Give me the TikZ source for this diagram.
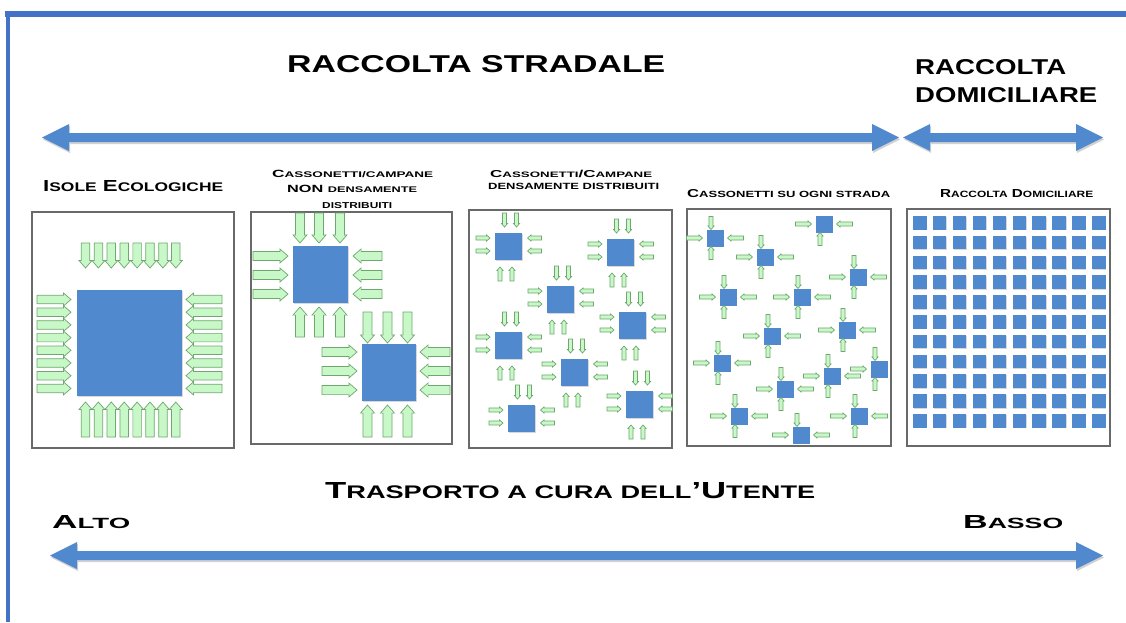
\documentclass[tikz,border=0pt]{standalone}
\usepackage{fontspec}
\setmainfont{Liberation Sans}
\usetikzlibrary{shadows}
\definecolor{frameblue}{RGB}{68,114,196}
\definecolor{sqblue}{RGB}{80,137,205}
\definecolor{gfill}{RGB}{200,248,200}
\definecolor{gline}{RGB}{110,168,110}
\definecolor{boxgray}{RGB}{105,105,105}
\tikzset{
  garrow/.style={fill=gfill, draw=gline, line width=0.7pt},
  sq/.style={fill=sqblue, drop shadow={shadow xshift=0.7pt, shadow yshift=-0.9pt, opacity=0.3}},
  panel/.style={draw=boxgray, line width=1.1pt, fill=white},
  bigarrow/.style={fill=sqblue, drop shadow={shadow xshift=1pt, shadow yshift=-2pt, opacity=0.35}},
  lbl/.style={anchor=base west, inner sep=0pt, font=\bfseries},
}
% green block arrow: centre x, centre y, angle, length, width
\newcommand\ga[5]{%
  \draw[garrow, shift={(#1,#2)}, rotate=#3]
    ({-#4/2},{-0.34*#5}) -- ({#4/2-0.6*#5},{-0.34*#5}) -- ({#4/2-0.6*#5},{-0.52*#5})
    -- ({#4/2},0) -- ({#4/2-0.6*#5},{0.52*#5}) -- ({#4/2-0.6*#5},{0.34*#5})
    -- ({-#4/2},{0.34*#5}) -- cycle;}
% big double arrow: x1, x2, y
\newcommand\bigarr[3]{%
  \path[bigarrow] (#1,#3) -- ({#1+27},{#3-13.5}) -- ({#1+27},{#3-4.5}) -- ({#2-27},{#3-4.5})
    -- ({#2-27},{#3-13.5}) -- (#2,#3) -- ({#2-27},{#3+13.5}) -- ({#2-27},{#3+4.5})
    -- ({#1+27},{#3+4.5}) -- ({#1+27},{#3+13.5}) -- cycle;}
% panel 3 unit: top-left x, y, has bottom arrows
\newcommand\uC[3]{%
  \fill[sq] (#1,#2) rectangle ++(27,27);
  \ga{#1+9.5}{#2-13}{270}{14}{6}\ga{#1+21.5}{#2-13}{270}{14}{6}
  \ga{#1-12}{#2+5}{0}{14}{6}\ga{#1-12}{#2+18}{0}{14}{6}
  \ga{#1+39.5}{#2+5}{180}{14}{6}\ga{#1+39.5}{#2+18}{180}{14}{6}
  \ifnum#3=1 \ga{#1+5}{#2+41}{90}{14}{6}\ga{#1+17}{#2+41}{90}{14}{6}\fi}
% panel 4 unit: centre x, y, flags top bottom left right
\newcommand\uD[6]{%
  \fill[sq] ({#1-8.5},{#2-8.5}) rectangle ++(17,17);
  \ifnum#3=1 \ga{#1-4}{#2-15}{270}{13}{6}\fi
  \ifnum#4=1 \ga{#1-4}{#2+15}{90}{13}{6}\fi
  \ifnum#5=1 \ga{#1-20.5}{#2}{0}{16}{6}\fi
  \ifnum#6=1 \ga{#1+20.5}{#2}{180}{16}{6}\fi}
\newcommand\scx[1]{{\fontsize{9.4}{9.4}\selectfont #1}}
\newcommand\lab[3]{\resizebox{#1pt}{#2pt}{\fontsize{12}{12}\selectfont #3}}
\begin{document}
\begin{tikzpicture}[x=1pt,y=-1pt]
\useasboundingbox (0,0) rectangle (1126,622);
\fill[white] (0,0) rectangle (1126,622);
% frame
\draw[frameblue, line width=6pt] (5,14) -- (1126,14);
\draw[frameblue, line width=4pt] (8,11) -- (8,622);
% titles
\node[lbl] (tstrad) at (287,72) {\resizebox{378pt}{17pt}{RACCOLTA STRADALE}};
\node[lbl] (tdom1) at (915,74) {\resizebox{151pt}{15pt}{RACCOLTA}};
\node[lbl] (tdom2) at (915,102) {\resizebox{182pt}{15pt}{DOMICILIARE}};
% big arrows
\bigarr{42}{899}{137.5}
\bigarr{903}{1103}{137.5}
\bigarr{50}{1103}{555.5}
% panel labels
\node[lbl] (l1) at (43,191) {\lab{180}{11}{I\scx{SOLE} E\scx{COLOGICHE}}};
\node[lbl] (l2a) at (272,177) {\lab{161}{7.3}{C\scx{ASSONETTI/CAMPANE}}};
\node[lbl] (l2b) at (287,192) {\lab{130}{7.3}{NON \scx{DENSAMENTE}}};
\node[lbl] (l2c) at (322,208) {\lab{70}{6}{\scx{DISTRIBUITI}}};
\node[lbl] (l3a) at (490,177) {\lab{162}{7.3}{C\scx{ASSONETTI}/C\scx{AMPANE}}};
\node[lbl] (l3b) at (488,189) {\lab{171}{6.3}{\scx{DENSAMENTE DISTRIBUITI}}};
\node[lbl] (l4) at (687,197) {\lab{203}{8}{C\scx{ASSONETTI SU OGNI STRADA}}};
\node[lbl] (l5) at (940,197) {\lab{153}{8}{R\scx{ACCOLTA} D\scx{OMICILIARE}}};
\node[lbl] (ltr) at (325,498) {\lab{490}{16}{T\scx{RASPORTO A CURA DELL}’U\scx{TENTE}}};
\node[lbl] (lalto) at (52,528) {\lab{78}{13}{A\scx{LTO}}};
\node[lbl] (lbasso) at (963,528) {\lab{100}{13}{B\scx{ASSO}}};
% panels
\draw[panel] (32,212) rectangle (234,448);
\draw[panel] (251,212) rectangle (452,444);
\draw[panel] (469,210) rectangle (672,448);
\draw[panel] (687,209) rectangle (891,446);
\draw[panel] (907,209) rectangle (1110,446);
% panel 1
\fill[sq] (77,290) rectangle (182,396);
\foreach \i in {0,...,7}{
  \ga{85.5+12.9*\i}{255.5}{270}{25}{12.5}
  \ga{85.5+12.9*\i}{419.5}{90}{35}{12.5}
  \ga{54}{299.5+12.7*\i}{0}{34}{12.5}
  \ga{204}{299.5+12.7*\i}{180}{36}{12.5}
}
% panel 2
\fill[sq] (293,246) rectangle (348,303);
\foreach \a in {300,319,340}{\ga{\a}{228}{270}{30}{13.5}\ga{\a}{322}{90}{30}{13.5}}
\foreach \b in {256,275,294}{\ga{270.5}{\b}{0}{35}{13.5}\ga{367.5}{\b}{180}{29}{13.5}}
\fill[sq] (362,344) rectangle (416,401);
\foreach \a in {367.5,387.5,407.5}{\ga{\a}{327.5}{270}{31}{13.5}\ga{\a}{421}{90}{32}{13.5}}
\foreach \b in {352,371,390}{\ga{339.5}{\b}{0}{35}{13.5}\ga{435}{\b}{180}{30}{13.5}}
% panel 3
\uC{495}{233}{1}
\uC{607}{239}{1}
\uC{547}{286}{1}
\uC{619}{312}{1}
\uC{495}{332}{1}
\uC{561}{359}{1}
\uC{626}{391}{1}
\uC{508}{405}{0}
% panel 4
\uD{715}{238}{1}{1}{1}{1}
\uD{824}{224}{0}{1}{1}{1}
\uD{765}{257}{1}{1}{1}{1}
\uD{858}{277}{1}{1}{1}{1}
\uD{728}{297}{1}{1}{1}{1}
\uD{802}{297}{1}{1}{1}{1}
\uD{847}{330}{1}{1}{1}{1}
\uD{772}{336}{1}{1}{1}{1}
\uD{722}{363}{1}{1}{1}{1}
\uD{832}{376}{1}{1}{1}{1}
\uD{879}{369}{1}{1}{1}{0}
\uD{785}{389}{1}{1}{1}{1}
\uD{739}{416}{1}{1}{1}{1}
\uD{859}{416}{1}{1}{1}{1}
\uD{801}{435}{1}{0}{1}{1}
% panel 5
\foreach \i in {0,...,9}{\foreach \j in {0,...,10}{
  \fill[sq] ({913+19.9*\i},{216+19.8*\j}) rectangle ++(13.5,13.5);}}
\end{tikzpicture}
\end{document}
